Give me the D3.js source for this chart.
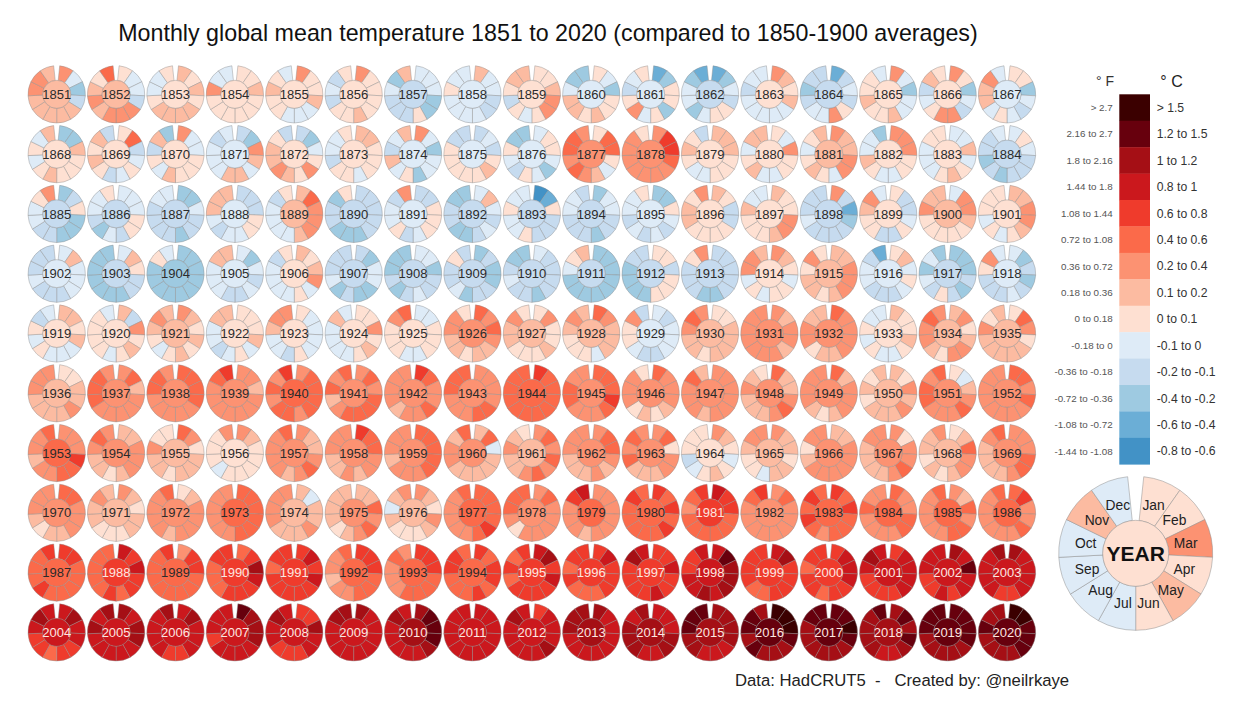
<!DOCTYPE html>
<html><head><meta charset="utf-8">
<script src="https://cdn.jsdelivr.net/npm/d3@7/dist/d3.min.js"></script>
<style>html,body{margin:0;background:#fff}svg{display:block}text{font-family:"Liberation Sans",Arial,sans-serif}</style>
</head><body><svg id="c" width="1255" height="708"></svg>
<script>
// Each year: 12 monthly bins (Jan..Dec) then the annual bin, one letter per bin.
const firstYear = 1851;
const row1 = ["hecdggggghhgg","feedhhhghgfig","gfgfggggfeeff","ffgffffffheef","hffgeeeffgfef","hffffgffdedff","eeeccfdddecgd","geeddeeeefeee","ffghhfefdfggf","fecffgfggecce","bcffcfehfdefe","bcedffeceecbd","hgfgeeeeedeef","bdedfheedcddd","heceegffgffef","hfcedhhfedgff","ffcedefegghee"];
const row2 = ["ccgfffgfefegf","fidefedfgfgdf","heefffgefdgcf","dchgeggeeedee","dcefhfghggfdf","ggfffeffdeeff","heceecfegdege","dedfgfffffdde","effecefdefcce","fiifeghihiihh","hjjihhhhhhhfh","gggfffeefgfdf","fehffeegfeggf","hgghhefgfefgg","hhhffeefgeecf","eegefgfeeefff","efedddcdcdded"];
const row3 = ["cdfcccddeefhd","eeeffdecdeefd","cceddcddddeed","dddffeedeggge","gihhhgeeeedfg","dddddcccddcfd","ddfffedfeedhe","egededccddccd","abfdddfeefeed","ceeddcdddeedd","ccfedededeefe","gfddffffggfhf","gffhhgfffgeef","hdbcddddedddd","fddefddffghef","ehhgfffffhggg","gghhgfefeffff"];
const row4 = ["egeeedddeddde","egfddcccccccd","ccccccccccfec","ecededdeeegge","gfghefeeeedff","dceeccdcedddd","eecddedcdcccd","cdccddceddfdd","eddddcddedccd","cccccccccefgd","ffdfffccccddd","dddddccdddfhd","hgfeffefehhgf","gghhhgfggfhfg","fgefedddeedbe","cccdcdfdececd","ecdcdedddfhee"];
const row5 = ["ggfgeeefefdef","gdhfgfeffffef","hgfgfgfefghgg","fffgefedeeggf","feeeefdeeghhf","ffhfgfeeeegef","eefffeefffhif","ihihggfgghhfh","fhffgfffgghfg","ihgggefffghgg","edeeeddeffhde","ffggggfgghihg","hghhghhhhhhhh","ihhhhggfhhggh","gffgfeefefeef","ghfghhfghhihg","fihfggggghfgg"];
const row6 = ["ffgghgggghhhg","highhhhhiiihh","iiiihhhhhiihh","hhghhhhhhhijh","hiiiihiihihji","hihiiiihgihih","jihhihhghhhhh","hhhhiihhhiiih","jiiiiiiiiiiii","iiijihhhiihhh","ihhhgfgfhhhfh","hhhhhhghhhigh","igghihggghgfh","ighhhgfghhhhh","gfhghgggfgfgg","feghihhhiihih","iihihhhhhhhhh"];
const row7 = ["hhhjiihhghhii","gghhhgfgghihh","ihfgggfgghffg","hgfffffefffhf","hgghihghhhhih","jiihhghgghhhh","iiiiihhhghhhh","gieggggghhgih","hihihihgghgfg","hiihghggghhhh","hifhhgggihihh","hgfefgfedffff","hggfggeffghhg","gghhhhhhgfhhh","hfhhihgggghhh","fgihhgfgfgghg","hhhiihgggghih"];
const row8 = ["iihhhggfghhhh","hgfggfffgghgg","fghhhhghhhhih","iiiiiihhhhhhi","gegghggghhhhg","ggihihgfggggh","hgfhgfffgeghg","iiiijihhhhhii","hihhhhhfhiiih","hhhhhhghhhjki","jijijiiiiijii","kjjiiiiiihijj","hihhhhhhhhijh","jijiiihijijii","ihhiihhhhihhi","hgihiihhhhhii","ijhhihhhhhhii"];
const row9 = ["jjiiiiijiiiji","kjkjjijiiiiij","hjjiiiiiiiiji","ijlkjjjiiijjj","jkjkjjjjjijjj","jjjiiihhghhii","jjjiiiihhhihi","jijjijiiijjii","kljkjjjjijijj","jkjjjiiijijjj","jjkjjkjjjjlkj","kmlllklkkjjkk","kljjjjiijjjjj","jkkkjjijjijjj","jkkkkjjjjklkk","lkmkkjkjjkkkk","lkkkkjjkkkklk"];
const row10 = ["klkkjjijjklkk","lkllkkkkklklk","klkkkjjkkkklk","mlllkkkkjkkkk","jjlkkjjjkklkk","lkkkkkkkkkllk","lmmmlkkkkklkl","kkkkkkkkkkkkk","jkkklkkkkklkk","lkkkkkkkkllll","kkkllkklllkll","llllkkkllmmml","nnnmlllmlmmlm","mmnmllllllmmm","lmlmlkkllllml","mmmmlllllmmmm","nnmmmllllmllm"];
const keyYear = "ffhfgfeeeegef";

const binMid = {a:-.7,b:-.5,c:-.3,d:-.15,e:-.05,f:.05,g:.15,h:.3,i:.5,j:.7,k:.9,l:1.1,m:1.35,n:1.6};
const thresholds = [-.6,-.4,-.2,-.1,0,.1,.2,.4,.6,.8,1,1.2,1.5];
const palette = ["#4292c6","#6baed6","#9ecae1","#c6dbef","#deebf7","#fee0d2","#fcbba1","#fc9272","#fb6a4a","#ef3b2c","#cb181d","#a50f15","#67000d","#3b0000"];
const months = ["Jan","Feb","Mar","Apr","May","Jun","Jul","Aug","Sep","Oct","Nov","Dec"];
const celsius = ["> 1.5","1.2 to 1.5","1 to 1.2","0.8 to 1","0.6 to 0.8","0.4 to 0.6","0.2 to 0.4","0.1 to 0.2","0 to 0.1","-0.1 to 0","-0.2 to -0.1","-0.4 to -0.2","-0.6 to -0.4","-0.8 to -0.6"];
const fahrenheit = ["> 2.7","2.16 to 2.7","1.8 to 2.16","1.44 to 1.8","1.08 to 1.44","0.72 to 1.08","0.36 to 0.72","0.18 to 0.36","0 to 0.18","-0.18 to 0","-0.36 to -0.18","-0.72 to -0.36","-1.08 to -0.72","-1.44 to -1.08"];
const rows = [row1,row2,row3,row4,row5,row6,row7,row8,row9,row10];

const svg = d3.select("#c");
const color = d3.scaleThreshold().domain(thresholds).range(palette);
const deg = Math.PI/180;
const angle = d3.scaleLinear().domain([0,12]).range([6*deg,354*deg]);
const xPos = d3.scalePoint().domain(d3.range(17)).range([56.7,1007]);
const yPos = d3.scalePoint().domain(d3.range(rows.length)).range([94.3,632.3]);
const decode = s => Array.from(s, c => binMid[c]);
const EDGE = "rgba(140,140,140,.7)";

function dial(g, vals, inner, outer, sw){
  const arc = d3.arc().innerRadius(inner).outerRadius(outer);
  g.selectAll("path").data(vals.slice(0,12)).join("path")
    .attr("d",(d,i)=>arc({startAngle:angle(i),endAngle:angle(i+1)}))
    .attr("fill",d=>color(d)).attr("stroke",EDGE).attr("stroke-width",sw).attr("stroke-linejoin","round");
  g.append("circle").attr("r",inner).attr("fill",color(vals[12])).attr("stroke",EDGE).attr("stroke-width",sw);
}

const years = rows.flatMap((r,ri)=>r.map((s,ci)=>({s,ri,ci})));
years.forEach((d,i)=>{d.year=firstYear+i;});
svg.selectAll("g.year").data(years).join("g").attr("class","year")
  .attr("transform",d=>`translate(${xPos(d.ci)},${yPos(d.ri)})`)
  .each(function(d){
    const vals=decode(d.s), g=d3.select(this);
    dial(g,vals,14,28.7,.6);
    g.append("text").text(d.year).attr("text-anchor","middle").attr("dy",".36em")
      .attr("font-size",13).attr("fill",vals[12]>=.6?"#fde6e0":"#2b2b2b");
  });

svg.append("text").text("Monthly global mean temperature 1851 to 2020 (compared to 1850-1900 averages)")
  .attr("x",548).attr("y",41).attr("text-anchor","middle").attr("font-size",23.25).attr("fill","#111");
svg.append("text").style("white-space","pre").text("Data: HadCRUT5  -   Created by: @neilrkaye")
  .attr("x",735).attr("y",685.5).attr("font-size",16.7).attr("fill","#222");

// colour key
const keyY = d3.scaleBand().domain(d3.range(14)).range([94.3,464.3]);
const key = svg.append("g");
key.selectAll("rect").data(palette.slice().reverse()).join("rect")
  .attr("x",1119.3).attr("width",30.7).attr("y",(d,i)=>keyY(i)).attr("height",keyY.bandwidth()+.3).attr("fill",d=>d);
key.selectAll("text.c").data(celsius).join("text").attr("class","c").text(d=>d)
  .attr("x",1156.7).attr("y",(d,i)=>keyY(i)+keyY.bandwidth()/2).attr("dy",".36em").attr("font-size",12.2).attr("fill","#333");
key.selectAll("text.f").data(fahrenheit).join("text").attr("class","f").text(d=>d)
  .attr("x",1112.7).attr("y",(d,i)=>keyY(i)+keyY.bandwidth()/2).attr("dy",".36em").attr("text-anchor","end").attr("font-size",9.8).attr("fill","#555");
key.append("text").text("° F").attr("x",1105).attr("y",86).attr("text-anchor","middle").attr("font-size",14).attr("fill","#333");
key.append("text").text("° C").attr("x",1171.5).attr("y",87).attr("text-anchor","middle").attr("font-size",16).attr("fill","#222");

// year key dial
const kg = svg.append("g").attr("transform","translate(1135.7,553.3)");
dial(kg,decode(keyYear),33,77,.7);
const labelArc = d3.arc().innerRadius(51).outerRadius(51);
kg.selectAll("text.m").data(months).join("text").attr("class","m").text(d=>d)
  .attr("transform",(d,i)=>`translate(${labelArc.centroid({startAngle:angle(i),endAngle:angle(i+1)})})`)
  .attr("text-anchor","middle").attr("dy",".36em").attr("font-size",13.8).attr("fill","#222");
kg.append("text").text("YEAR").attr("text-anchor","middle").attr("dy",".36em").attr("font-size",21).attr("font-weight","bold").attr("fill","#111");
</script></body></html>
